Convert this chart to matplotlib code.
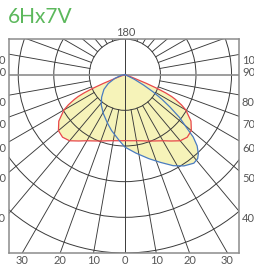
import numpy as np
import matplotlib
matplotlib.use('Agg')
import matplotlib.pyplot as plt
from matplotlib.patches import Circle

# Titulo do diagrama
titulo = '6Hx7V'

# Curva vermelha (simetrica): angulo a partir do nadir (graus) e raio (em aneis)
ang_vermelho = [0, 5, 10, 15, 20, 25, 30, 35, 40, 45, 50, 55, 60, 62, 64, 65, 66, 67, 68, 70, 75, 90]
val_vermelho = [1.85, 1.86, 1.88, 1.92, 1.98, 2.05, 2.14, 2.27, 2.42, 2.48, 2.44, 2.27, 1.98, 1.80,
                1.58, 1.45, 1.25, 0.98, 0.65, 0.20, 0.0, 0.0]

# Curva azul (assimetrica): angulos negativos = lado esquerdo
ang_azul = [-90, -80, -70, -62, -55, -46, -38, -29, -20, -13.5, -5, 0, 8, 16, 22, 28, 33, 38, 41, 43,
            45.5, 47.7, 50, 52, 54.4, 56.5, 58.7, 61, 64, 70, 90]
val_azul = [0.0, 0.10, 0.30, 0.53, 0.72, 0.91, 1.08, 1.25, 1.44, 1.61, 1.85, 2.03, 2.22, 2.45, 2.65,
            2.89, 3.05, 3.15, 3.12, 3.03, 2.85, 2.60, 2.20, 1.95, 1.56, 1.25, 0.93, 0.60, 0.30, 0.05, 0.0]

# Rotulos dos angulos
rotulos_lado = ['100', '90', '80', '70', '60', '50', '40']
rotulos_baixo = [30, 20, 10, 0, 10, 20, 30]
aneis = [1, 2, 3, 4, 5]

escuro = '#3a3a3a'
cinza = '#8c8c8c'
amarelo = '#f6f3b9'
texto = '#555555'


def polar_xy(angulos, valores):
    a = np.radians(np.asarray(angulos, dtype=float))
    r = np.asarray(valores, dtype=float)
    return r * np.sin(a), -r * np.cos(a)


fig = plt.figure(figsize=(2.54, 2.68), dpi=100)
ax = fig.add_axes([9 / 254, 15 / 268, 230 / 254, 214 / 268])
ax.set_xlim(-3.26, 3.21)
ax.set_ylim(-5, 1)
ax.set_xticks([])
ax.set_yticks([])
for s in ax.spines.values():
    s.set_color(cinza)
    s.set_linewidth(1.1)

# Curvas completas
ang_v = [-a for a in ang_vermelho[::-1]] + ang_vermelho[1:]
val_v = val_vermelho[::-1] + val_vermelho[1:]
xv, yv = polar_xy(ang_v, val_v)
xa, ya = polar_xy(ang_azul, val_azul)

ax.fill(xv, yv, color=amarelo, lw=0, zorder=1)
ax.fill(xa, ya, color=amarelo, lw=0, zorder=1)

# Grade: linhas radiais a cada 10 graus, a partir do primeiro anel
for a in range(10, 180, 10):
    if a == 90:
        continue
    for lado in (1, -1):
        ang = np.radians(a) * lado
        ax.plot([np.sin(ang), 9 * np.sin(ang)], [-np.cos(ang), -9 * np.cos(ang)],
                color=escuro, lw=0.65, zorder=2)

for r in aneis:
    ax.add_patch(Circle((0, 0), r, fill=False, ec=escuro, lw=0.7, zorder=2))

ax.axvline(0, color=escuro, lw=0.7, zorder=2)
ax.axhline(0, color=cinza, lw=1.2, zorder=2)

ax.plot(xv, yv, color='#e8474a', lw=0.9, zorder=3)
ax.plot(xa, ya, color='#4a7cc0', lw=0.9, zorder=3)

# Textos
fig.text(8 / 254, 1 - 23 / 268, titulo, color='#5cb85c', fontsize=15, family='Lato',
         va='baseline', ha='left')
fig.text(126 / 254, 1 - 33 / 268, '180', color=texto, fontsize=8, family='Lato',
         ha='center', va='center')

y_lado = [60, 72, 102, 124.5, 148.5, 178, 219]
for txt, yp in zip(rotulos_lado, y_lado):
    fig.text(242 / 254, 1 - yp / 268, txt, color=texto, fontsize=8, family='Lato',
             ha='left', va='center')
    fig.text(6 / 254, 1 - yp / 268, txt, color=texto, fontsize=8, family='Lato',
             ha='right', va='center')

for i, v in enumerate(rotulos_baixo):
    lado = -1 if i < 3 else 1
    xd = lado * 5 * np.tan(np.radians(v))
    ax.text(xd, -5.22, str(v), color=texto, fontsize=8, family='Lato',
            ha='center', va='center', clip_on=False)

fig.savefig('out.png', dpi=100)
